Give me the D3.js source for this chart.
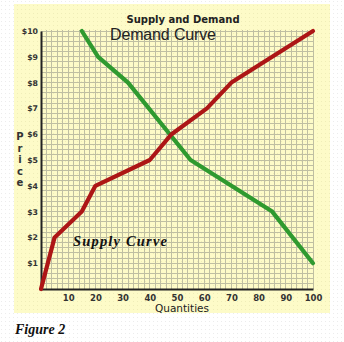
<!DOCTYPE html>
<html>
<head>
<meta charset="utf-8">
<script src="https://cdn.jsdelivr.net/npm/d3@7"></script>
<style>
  html, body { margin: 0; padding: 0; background: #ffffff; }
  svg { display: block; }
</style>
</head>
<body>
<script>
// Supply and demand schedules (quantity, price)
const supplyQty   = [0, 5, 15, 20, 40, 48, 61, 70, 85, 100];
const supplyPrice = [0, 2, 3, 4, 5, 6, 7, 8, 9, 10];
const demandQty   = [15, 21, 32, 55, 70, 85, 100];
const demandPrice = [10, 9, 8, 5, 4, 3, 1];

const xTicks = [10, 20, 30, 40, 50, 60, 70, 80, 90, 100];
const yTicks = [1, 2, 3, 4, 5, 6, 7, 8, 9, 10];

const W = 344, H = 342;
const svg = d3.select("body").append("svg").attr("width", W).attr("height", H);

// page background with a faint dither
const defs = svg.append("defs");
const pw = defs.append("pattern").attr("id", "ditherW").attr("width", 4).attr("height", 4)
  .attr("patternUnits", "userSpaceOnUse");
pw.append("rect").attr("width", 4).attr("height", 4).attr("fill", "#ffffff");
pw.append("rect").attr("x", 1).attr("y", 1).attr("width", 1).attr("height", 1).attr("fill", "#ececec");
const py = defs.append("pattern").attr("id", "ditherY").attr("width", 4).attr("height", 4)
  .attr("patternUnits", "userSpaceOnUse");
py.append("rect").attr("width", 4).attr("height", 4).attr("fill", "#fdfbc8");
py.append("rect").attr("x", 1).attr("y", 1).attr("width", 1).attr("height", 1).attr("fill", "#efedb8");

svg.append("rect").attr("width", W).attr("height", H).attr("fill", "url(#ditherW)");
svg.append("rect").attr("x", 14).attr("y", 4).attr("width", 316).attr("height", 309)
  .attr("fill", "url(#ditherY)");

const x = d3.scaleLinear().domain([0, 100]).range([41, 313]);
const y = d3.scaleLinear().domain([0, 10]).range([289, 31]);

// graph-paper grid
const grid = svg.append("g");
grid.selectAll("line.v").data(d3.range(2, 101, 2)).join("line")
  .attr("x1", d => x(d)).attr("x2", d => x(d))
  .attr("y1", y(10) - 1).attr("y2", y(0))
  .attr("stroke", "#bfbfa2").attr("stroke-width", 1).attr("shape-rendering", "crispEdges");
grid.selectAll("line.h").data(d3.range(1, 51).map(i => i * 0.2)).join("line")
  .attr("x1", x(0)).attr("x2", x(100))
  .attr("y1", d => y(d)).attr("y2", d => y(d))
  .attr("stroke", "#bfbfa2").attr("stroke-width", 1).attr("shape-rendering", "crispEdges");

// axes
const xAxis = d3.axisBottom(x).tickValues(xTicks).tickSize(0).tickPadding(6);
const gx = svg.append("g").attr("transform", `translate(0,${y(0)})`).call(xAxis);
gx.select(".domain").attr("stroke", "#222").attr("stroke-width", 2);
gx.selectAll("text").attr("font-family", "Verdana, 'DejaVu Sans', sans-serif")
  .attr("font-size", 8.5).attr("font-weight", "bold").attr("fill", "#333");

const yAxis = d3.axisLeft(y).tickValues(yTicks).tickSize(0).tickPadding(3)
  .tickFormat(d => "$" + d);
const gy = svg.append("g").attr("transform", `translate(${x(0)},0)`).call(yAxis);
gy.select(".domain").attr("stroke", "#222").attr("stroke-width", 2);
gy.selectAll("text").attr("font-family", "Verdana, 'DejaVu Sans', sans-serif")
  .attr("font-size", 7.8).attr("font-weight", "bold").attr("fill", "#333");

// curves
const line = d3.line().x(d => x(d[0])).y(d => y(d[1]));
const demand = d3.zip(demandQty, demandPrice);
const supply = d3.zip(supplyQty, supplyPrice);

svg.append("path").datum(demand).attr("d", line)
  .attr("fill", "none").attr("stroke", "#2f9a2f").attr("stroke-width", 4.2)
  .attr("stroke-linejoin", "round").attr("stroke-linecap", "round");
svg.append("path").datum(supply).attr("d", line)
  .attr("fill", "none").attr("stroke", "#ad1616").attr("stroke-width", 4.2)
  .attr("stroke-linejoin", "round").attr("stroke-linecap", "round");

// titles and labels
svg.append("text").attr("x", 183).attr("y", 23).attr("text-anchor", "middle")
  .attr("font-family", "Verdana, 'DejaVu Sans', sans-serif").attr("font-size", 10)
  .attr("font-weight", "bold").attr("fill", "#222").text("Supply and Demand");

svg.append("text").attr("x", 110).attr("y", 40)
  .attr("font-family", "'Liberation Sans', Arial, sans-serif").attr("font-size", 16)
  .attr("textLength", 106).attr("fill", "#222").text("Demand Curve");

svg.append("text").attr("x", 73).attr("y", 246)
  .attr("font-family", "'Liberation Serif', 'Times New Roman', serif").attr("font-size", 14.5)
  .attr("font-style", "italic").attr("font-weight", "bold")
  .attr("textLength", 94).attr("fill", "#111").text("Supply Curve");

svg.append("text").attr("x", 182).attr("y", 312).attr("text-anchor", "middle")
  .attr("font-family", "Verdana, 'DejaVu Sans', sans-serif").attr("font-size", 10.5)
  .attr("fill", "#222").text("Quantities");

// vertical axis title, one letter per line
const priceLetters = ["P", "r", "i", "c", "e"];
svg.append("g").selectAll("text").data(priceLetters).join("text")
  .attr("x", 20).attr("y", (d, i) => 140 + i * 11.5).attr("text-anchor", "middle")
  .attr("font-family", "Verdana, 'DejaVu Sans', sans-serif").attr("font-size", 10)
  .attr("font-weight", "bold").attr("fill", "#333").text(d => d);

svg.append("text").attr("x", 15).attr("y", 334)
  .attr("font-family", "'Liberation Serif', 'Times New Roman', serif").attr("font-size", 14)
  .attr("font-style", "italic").attr("font-weight", "bold")
  .attr("fill", "#111").text("Figure 2");
</script>
</body>
</html>
